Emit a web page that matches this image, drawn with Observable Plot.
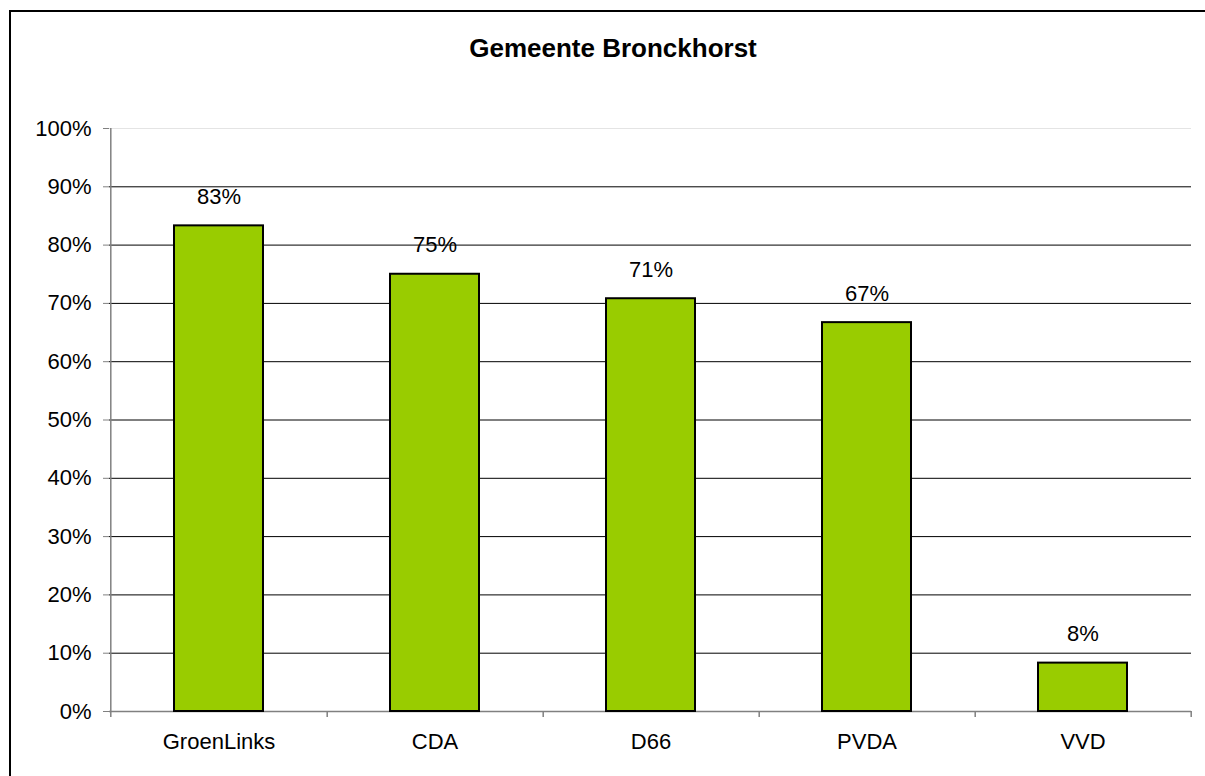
<!DOCTYPE html>
<html>
<head>
<meta charset="utf-8">
<script src="https://cdn.jsdelivr.net/npm/d3@7"></script>
<script src="https://cdn.jsdelivr.net/npm/@observablehq/plot@0.6"></script>
<style>
  html, body { margin: 0; padding: 0; background: #fff; overflow: hidden; }
  #wrap { position: relative; width: 1205px; height: 776px; overflow: hidden; font-family: "Liberation Sans", Arial, sans-serif; }
  #border { position: absolute; left: 9px; top: 10px; width: 1196px; height: 766px; border-top: 2px solid #000; border-left: 2px solid #000; box-sizing: border-box; }
  #title { position: absolute; left: 9px; width: 1208px; top: 35px; text-align: center; font-weight: bold; font-size: 26px; line-height: 26px; color: #000; }
  #chart { position: absolute; left: 0; top: 0; }
</style>
</head>
<body>
<div id="wrap">
  <div id="border"></div>
  <div id="title">Gemeente Bronckhorst</div>
  <div id="chart"></div>
</div>
<script>
const categories = ["GroenLinks", "CDA", "D66", "PVDA", "VVD"];
const values = [0.833, 0.750, 0.708, 0.667, 0.083];
const labels = ["83%", "75%", "71%", "67%", "8%"];
const yTicks = [0, 0.1, 0.2, 0.3, 0.4, 0.5, 0.6, 0.7, 0.8, 0.9, 1.0];

const data = categories.map((c, i) => ({cat: c, value: values[i], label: labels[i]}));

const W = 1205, H = 776;
const mL = 109, mR = 14, mT = 128, mB = 65;
const step = (W - mL - mR) / categories.length;
const font = "Liberation Sans, Arial, sans-serif";

const chart = Plot.plot({
  width: W,
  height: H,
  marginLeft: mL,
  marginRight: mR,
  marginTop: mT,
  marginBottom: mB,
  style: {fontFamily: font, fontSize: "22px", background: "transparent", color: "#000"},
  x: {domain: categories, paddingInner: 0.59, paddingOuter: 0.295, label: null},
  y: {domain: [0, 1], label: null},
  marks: [
    Plot.ruleY(yTicks.filter(d => d > 0 && d < 1), {stroke: "#000", strokeWidth: 1}),
    Plot.ruleY([1], {stroke: "#e4e4e4", strokeWidth: 1}),
    Plot.ruleX([categories[0]], {x: d => d, dx: -step / 2, y1: 0, y2: 1, stroke: "#808080", strokeWidth: 1.5}),
    Plot.ruleY([0], {stroke: "#808080", strokeWidth: 1.5}),
    Plot.ruleX(categories, {x: d => d, dx: step / 2, y1: 0, y2: 0, insetBottom: -6, stroke: "#808080", strokeWidth: 1.5}),
    Plot.ruleX([categories[0]], {x: d => d, dx: -step / 2, y1: 0, y2: 0, insetBottom: -6, stroke: "#808080", strokeWidth: 1.5}),
    Plot.barY(data, {x: "cat", y: "value", fill: "#99cc00", stroke: "#000", strokeWidth: 2}),
    Plot.text(data, {x: "cat", y: "value", text: "label", dy: -29, fill: "#000", fontSize: 22, textAnchor: "middle"}),
    Plot.axisY({ticks: yTicks, tickFormat: d3.format(".0%"), tickSize: 6, tickPadding: 12, stroke: "#808080", fill: "#000", fontSize: 22, label: null}),
    Plot.axisX({tickSize: 0, tickPadding: 22, fill: "#000", fontSize: 22, label: null})
  ]
});
document.getElementById("chart").appendChild(chart);
</script>
</body>
</html>
